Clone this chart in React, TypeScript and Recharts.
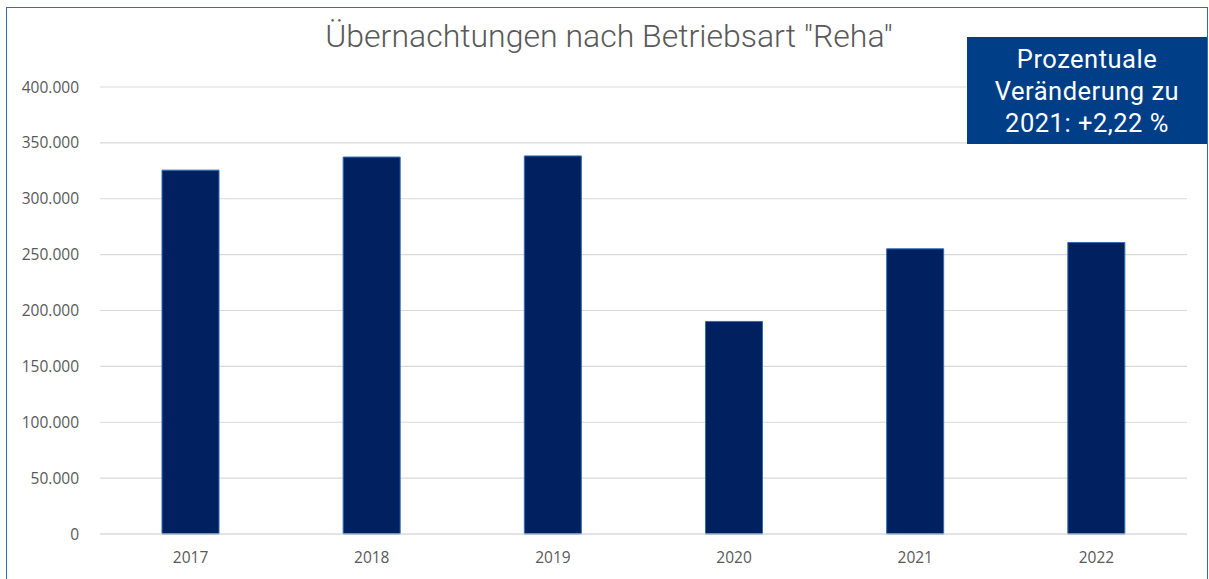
import React from 'react';
import { BarChart, Bar, XAxis, YAxis, CartesianGrid } from 'recharts';

const years = ['2017', '2018', '2019', '2020', '2021', '2022'];
const nights = [325600, 337300, 338300, 190200, 255200, 260870];
const yTicks = [0, 50000, 100000, 150000, 200000, 250000, 300000, 350000, 400000];

const data = years.map((year, i) => ({ year, nights: nights[i] }));

const fmt = (v: number) => v.toLocaleString('de-DE');

const tickStyle = { fill: '#595959', fontSize: 15.5, fontFamily: '"Open Sans", sans-serif' };

export default function App() {
  return (
    <div style={{ position: 'relative', width: 1209, height: 579, background: '#fff', overflow: 'hidden' }}>
      <style>{`body { margin: 0; }`}</style>
      <div
        style={{
          position: 'absolute',
          left: 6,
          top: 7,
          width: 1202,
          height: 590,
          border: '1.5px solid #2E6DB4',
          boxSizing: 'border-box',
        }}
      />
      <div
        style={{
          position: 'absolute',
          left: 0,
          top: 17,
          width: 1218,
          textAlign: 'center',
          fontFamily: 'Roboto, sans-serif',
          fontWeight: 300,
          fontSize: 32,
          color: '#595959',
        }}
      >
        Übernachtungen nach Betriebsart "Reha"
      </div>
      <BarChart
        width={1209}
        height={579}
        data={data}
        margin={{ top: 87, right: 22, left: 0, bottom: 0 }}
      >
        <CartesianGrid vertical={false} stroke="#D9D9D9" strokeWidth={1.2} />
        <XAxis
          dataKey="year"
          height={45}
          axisLine={{ stroke: '#D9D9D9', strokeWidth: 1.2 }}
          tickLine={false}
          tick={tickStyle}
          dy={10}
        />
        <YAxis
          width={100}
          domain={[0, 400000]}
          ticks={yTicks}
          axisLine={false}
          tickLine={false}
          tick={tickStyle}
          tickFormatter={fmt}
          dx={-13}
        />
        <Bar
          dataKey="nights"
          fill="#002060"
          stroke="#2E6DB4"
          strokeWidth={1}
          barSize={57}
          isAnimationActive={false}
        />
      </BarChart>
      <div
        style={{
          position: 'absolute',
          left: 967,
          top: 37,
          width: 240,
          height: 107,
          background: '#003F87',
          color: '#fff',
          fontFamily: 'Roboto, sans-serif',
          fontSize: 25.5,
          lineHeight: '32px',
          textAlign: 'center',
          display: 'flex',
          alignItems: 'center',
          justifyContent: 'center',
          letterSpacing: 0.5,
        }}
      >
        <div>
          Prozentuale
          <br />
          Veränderung zu
          <br />
          2021: +2,22 %
        </div>
      </div>
    </div>
  );
}
